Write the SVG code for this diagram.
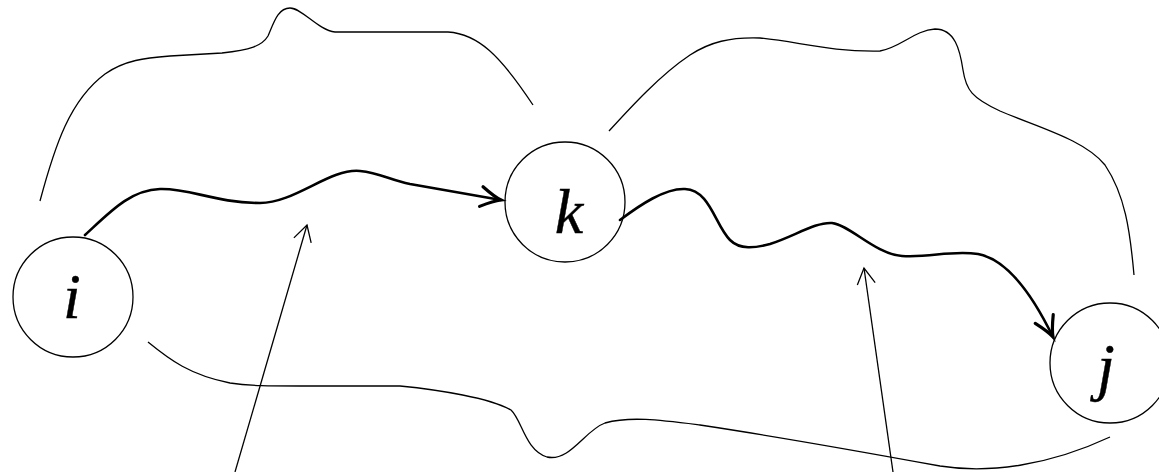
<svg xmlns="http://www.w3.org/2000/svg" width="1159" height="472" viewBox="0 0 1159 472">
<style>
.node circle{fill:none;stroke:#000;stroke-width:1.3}
.lbl{font-family:"Liberation Serif","DejaVu Serif",serif;font-style:italic;font-size:64px;fill:#000;stroke:#000;stroke-width:0.4;text-anchor:middle}
.thin{fill:none;stroke:#000;stroke-width:1.3}
.thick{fill:none;stroke:#000;stroke-width:2.6;stroke-linecap:round}
</style>
<defs>
<marker id="headThick" markerUnits="userSpaceOnUse" markerWidth="40" markerHeight="40" refX="0" refY="0" orient="auto" overflow="visible">
<path d="M-20,-10 Q-7,-2 0,0 Q-7,2 -20,10" fill="none" stroke="#000" stroke-width="3.2" stroke-linecap="round"/>
</marker>
<marker id="headThin" markerUnits="userSpaceOnUse" markerWidth="40" markerHeight="40" refX="0" refY="0" orient="auto" overflow="visible">
<path d="M-16,-9 L0,0 L-16,9" fill="none" stroke="#000" stroke-width="1.3"/>
</marker>
</defs>
<rect width="1159" height="472" fill="#fff"/>
<g id="node-i" class="node"><circle cx="73" cy="297" r="60"/><text class="lbl" x="72" y="318">i</text></g>
<g id="node-k" class="node"><circle cx="565" cy="202" r="60"/><text class="lbl" x="569" y="233">k</text></g>
<g id="node-j" class="node"><circle cx="1110" cy="363" r="60"/><text class="lbl" x="1106" y="388">j</text></g>
<g id="connectors">
<path class="thin" d="M40,201 C55,145 70,100 105,74 C125,60 145,58 170,56 L222,53 C250,50 262,46 268,36 C274,22 278,8 290,8 C302,8 318,30 335,32 L448,32 C478,34 500,55 533,105"/>
<path class="thin" d="M609,131 C630,108 660,75 690,55 C710,42 730,37 760,38 C800,42 830,52 880,51 C900,48 915,30 935,29 C955,29 960,50 963,70 C966,90 972,98 1000,111 C1040,128 1085,140 1105,165 C1125,195 1130,230 1134,275"/>
<path class="thin" d="M148,342 C170,360 190,375 230,383 C250,386 270,386 300,386 L400,386 C440,390 490,398 511,410 C522,420 525,450 547,457 C570,462 585,430 605,423 C630,416 660,420 700,425 C780,437 880,455 940,466 C990,474 1050,465 1110,437"/>
<path class="thick" marker-end="url(#headThick)" d="M85,235 C110,212 130,190 160,189 C190,188 215,203 260,203 C295,203 330,168 360,171 C380,173 390,180 410,184 L501,200"/>
<path class="thick" marker-end="url(#headThick)" d="M620,220 C640,205 665,188 685,189 C710,190 715,225 730,240 C740,250 755,248 770,244 C795,236 815,222 832,223 C850,225 875,254 902,256 C930,258 950,250 978,254 C1010,260 1035,300 1053,337"/>
<path class="thin" marker-end="url(#headThin)" d="M235,472 L307,225"/>
<path class="thin" marker-end="url(#headThin)" d="M893,472 L864,268"/>
</g>
</svg>
